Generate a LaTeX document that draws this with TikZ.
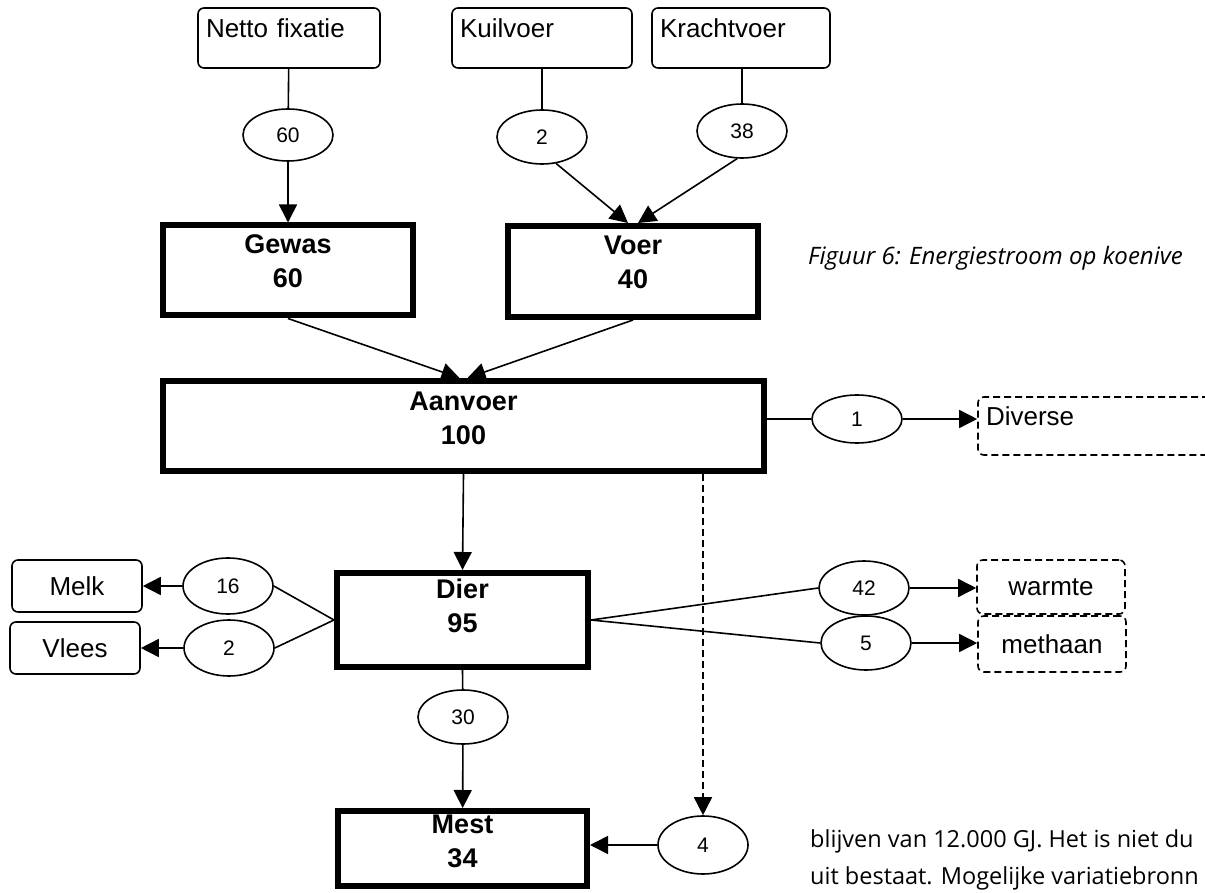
\documentclass[tikz,border=0pt]{standalone}
\usepackage{fontspec}
\setmainfont{Liberation Sans}
\newfontfamily\capfont{Open Sans}
\usetikzlibrary{shapes.geometric,arrows.meta}
\begin{document}
\begin{tikzpicture}[x=1pt,y=-1pt,
  thin/.style={line width=1.6pt},
  arr/.style={thin,-{Triangle[length=18pt,width=18pt]}},
  dsh/.style={thin,dash pattern=on 7pt off 4pt},
  srcbox/.style={draw,thin,rounded corners=6pt,inner xsep=8pt,inner ysep=0pt,
    font=\fontsize{26}{30}\selectfont,text height=19pt,text depth=20pt,align=left},
  sinkbox/.style={draw,thin,rounded corners=6pt,inner sep=0pt,font=\fontsize{26}{30}\selectfont},
  bigbox/.style={draw,line width=6pt,inner sep=0pt},
  boldtxt/.style={font=\fontsize{27}{34}\selectfont\bfseries,align=center,inner sep=0pt},
  val/.style={draw,thin,ellipse,inner sep=0pt,minimum width=90pt,minimum height=54pt,
    font=\fontsize{21}{24}\selectfont},
  bodytxt/.style={font=\capfont\fontsize{23.5}{28}\selectfont,anchor=west,inner sep=0pt}
]
\useasboundingbox (0,0) rectangle (1205,893);

% source boxes
\node[srcbox,minimum width=182pt,minimum height=60pt,text width=166pt] (netto) at (289,38) {Netto fixatie};
\node[srcbox,minimum width=180pt,minimum height=60pt,text width=164pt] (kuil) at (542,38) {Kuilvoer};
\node[srcbox,minimum width=178pt,minimum height=60pt,text width=162pt] (kracht) at (741,38) {Krachtvoer};

% value ellipses top
\node[val,minimum height=52pt] (e60) at (288,135) {60};
\node[val] (e2) at (542,137) {2};
\node[val,minimum height=54pt] (e38) at (742,131) {38};

% big boxes
\node[bigbox,minimum width=250pt,minimum height=90pt] (gewas) at (288,270.5) {};
\node[boldtxt] (gewasT) at (288,261) {Gewas\\60};
\node[bigbox,minimum width=250pt,minimum height=91pt] (voer) at (633,271.5) {};
\node[boldtxt] (voerT) at (633,262) {Voer\\40};
\node[bigbox,minimum width=601pt,minimum height=90pt] (aanvoer) at (463.5,426) {};
\node[boldtxt] (aanvoerT) at (463.5,418.5) {Aanvoer\\100};
\node[bigbox,minimum width=251pt,minimum height=94pt] (dier) at (462.5,620) {};
\node[boldtxt] (dierT) at (462.5,606) {Dier\\95};
\node[bigbox,minimum width=249pt,minimum height=75pt] (mest) at (462.5,848.5) {};
\node[boldtxt] (mestT) at (462.5,841) {Mest\\34};

% right of aanvoer
\node[val,minimum height=48pt] (e1) at (857,419) {1};
\node[srcbox,dsh,minimum width=237pt,minimum height=58pt,text width=221pt] (diverse) at (1096.5,426) {Diverse};

% caption
\node[bodytxt,font=\capfont\itshape\fontsize{24}{28}\selectfont] (cap) at (808,258) {Figuur 6: Energiestroom op koenive};

% left outputs
\node[val,minimum height=56pt] (e16) at (228,586) {16};
\node[val,minimum height=56pt] (e2b) at (229,648) {2};
\node[sinkbox,minimum width=130pt,minimum height=52pt] (melk) at (77,586) {Melk};
\node[sinkbox,minimum width=130pt,minimum height=52pt] (vlees) at (75,648) {Vlees};

% right outputs
\node[val] (e42) at (864,588) {42};
\node[val] (e5) at (866,643) {5};
\node[sinkbox,dsh,minimum width=148pt,minimum height=54pt] (warmte) at (1051,587) {warmte};
\node[sinkbox,dsh,minimum width=148pt,minimum height=56pt] (methaan) at (1052,644) {methaan};

% bottom
\node[val] (e30) at (463,717) {30};
\node[val,minimum height=58pt] (e4) at (703,845) {4};

\node[bodytxt] (t1) at (810,841) {blijven van 12.000 GJ. Het is niet du};
\node[bodytxt] (t2) at (810,878) {uit bestaat. Mogelijke variatiebronn};

% connectors
\draw[thin] (netto) -- (e60);
\draw[arr] (e60) -- (gewas);
\draw[thin] (kuil.south -| e2) -- (e2);
\draw[thin] (kracht.south -| e38) -- (e38);
\draw[arr] (e2.-62) -- ([xshift=-5pt]voer.north);
\draw[arr] (e38.-100) -- ([xshift=5pt]voer.north);
\draw[arr] (gewas.south) -- ([xshift=-4pt]aanvoer.north);
\draw[arr] (voer.south) -- ([xshift=4pt]aanvoer.north);
\draw[thin] (aanvoer.east |- e1) -- (e1);
\draw[arr] (e1) -- (diverse.west |- e1);
\draw[arr] (aanvoer.south) -- (dier.north);
\draw[arr,dash pattern=on 7pt off 4pt] (aanvoer.south -| e4) -- (e4.north);
\draw[thin] (e16.east) -- (dier.west) -- (e2b.east);
\draw[arr] (e16) -- (melk.east);
\draw[arr] (e2b) -- (vlees.east);
\draw[thin] (e42.west) -- (dier.east) -- (e5.west);
\draw[arr] (e42) -- (warmte.west |- e42);
\draw[arr] (e5) -- (methaan.west |- e5);
\draw[thin] (dier.south) -- (e30);
\draw[arr] (e30) -- (mest);
\draw[arr] (e4) -- (mest.east |- e4);
\end{tikzpicture}
\end{document}
